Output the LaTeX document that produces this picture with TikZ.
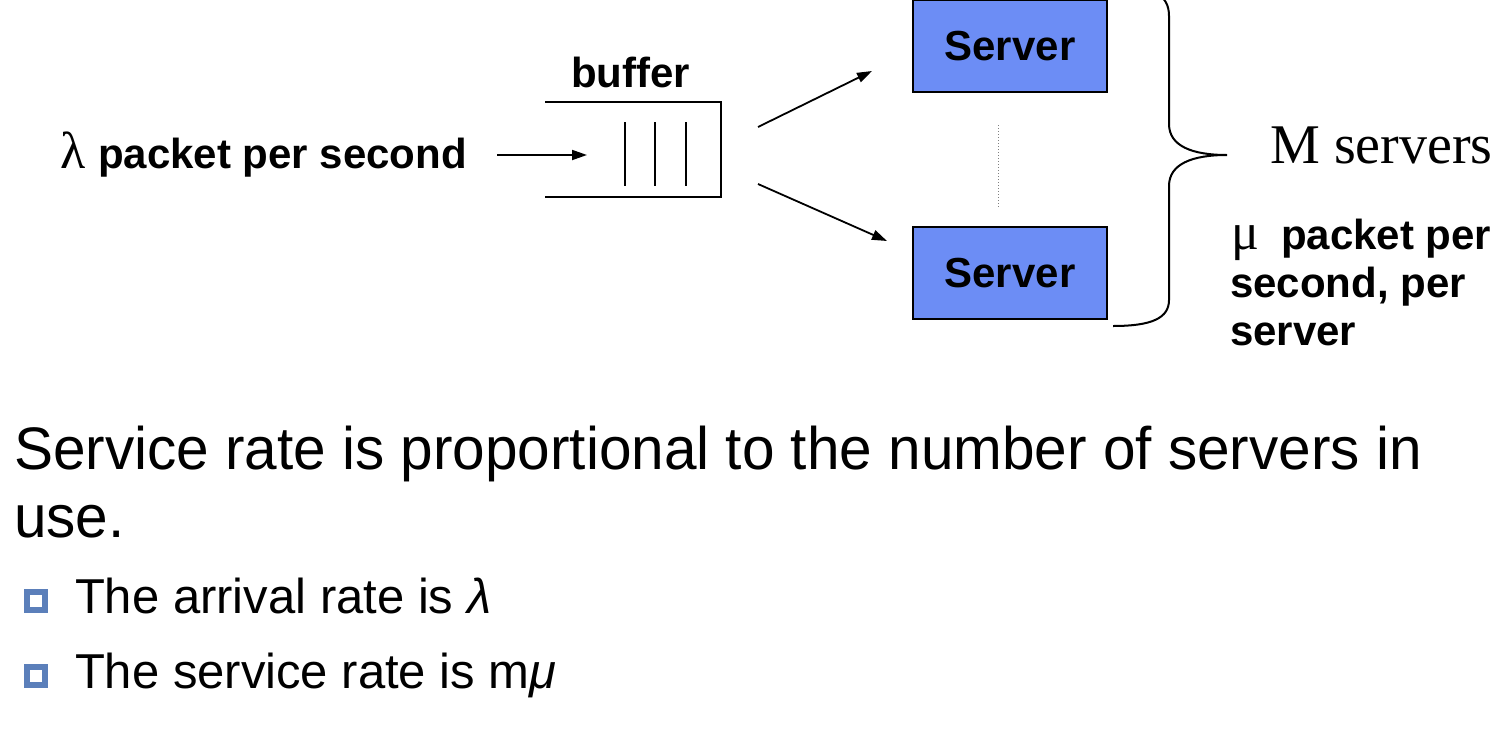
\documentclass[tikz,border=0pt]{standalone}
\usepackage{fontspec}
\setmainfont{Liberation Sans}
\newfontfamily\serifgr{Liberation Serif}
\usetikzlibrary{arrows.meta}
\definecolor{serverblue}{RGB}{108,141,245}
\definecolor{bulletblue}{RGB}{91,127,186}
\tikzset{
  lbl/.style={inner sep=0pt, outer sep=0pt, anchor=base west, font=\bfseries\fontsize{42}{48}\selectfont},
  body/.style={inner sep=0pt, outer sep=0pt, anchor=base west, font=\fontsize{60}{67}\selectfont},
  bul/.style={inner sep=0pt, outer sep=0pt, anchor=base west, font=\fontsize{49}{56}\selectfont},
  serverbox/.style={draw=black, line width=2pt, fill=serverblue, minimum width=194pt, minimum height=92pt, inner sep=0pt, font=\bfseries\fontsize{42}{48}\selectfont},
  arr/.style={line width=1.8pt, -{Triangle[length=15pt,width=10pt]}},
  bufline/.style={line width=2.4pt},
  bulletsq/.style={fill=bulletblue, minimum size=24pt, inner sep=0pt},
}
\newcommand{\bigsym}[1]{{\serifgr\mdseries\fontsize{52}{52}\selectfont #1}}
\begin{document}
\begin{tikzpicture}[x=1pt,y=-1pt]
\useasboundingbox (0,0) rectangle (1498,736);
\clip (0,0) rectangle (1498,736);
\fill[white] (0,0) rectangle (1498,736);

% input label
\node[lbl] (lambda) at (60,168) {\makebox[38pt][l]{\bigsym{λ}}packet per second};
\node[lbl] (buflabel) at (571,87) {buffer};

% buffer
\coordinate (btl) at (545,102);
\coordinate (btr) at (721,102);
\coordinate (bbr) at (721,197);
\coordinate (bbl) at (545,197);
\draw[bufline] (btl) -- (btr) -- (bbr) -- (bbl);
\foreach \x in {625,655,686}{
  \draw[bufline] (\x,122) -- (\x,186);
}

% servers
\node[serverbox] (s1) at (1010,46) {Server};
\node[serverbox] (s2) at (1010,273) {Server};
\draw[gray, line width=1pt, dotted] (998,125) -- (998,208);

% arrows
\coordinate (inA) at (497,155);
\coordinate (inB) at (587,155);
\draw[arr] (inA) -- (inB);
\coordinate (upA) at (758,127);
\coordinate (upB) at (872,71);
\draw[arr] (upA) -- (upB);
\coordinate (dnA) at (758,184);
\coordinate (dnB) at (887,241);
\draw[arr] (dnA) -- (dnB);

% brace
\draw[line width=2pt] (1113,-14) .. controls (1152,-14) and (1169,-6) .. (1169,16)
  -- (1169,124) .. controls (1169,146) and (1192,155) .. (1227,155)
  .. controls (1192,155) and (1169,164) .. (1169,186)
  -- (1169,300) .. controls (1169,318) and (1152,326) .. (1113,326);

\node[inner sep=0pt, anchor=base west, font=\serifgr\fontsize{56}{60}\selectfont] (mserv) at (1270,163) {M servers};
\node[lbl] (mu1) at (1231,249) {\makebox[50pt][l]{\bigsym{μ}}packet per};
\node[lbl] (mu2) at (1230,297) {second, per};
\node[lbl] (mu3) at (1230,345) {server};

% body text
\node[body] (t1) at (14,469) {\scalebox{0.975}[1]{Service rate is proportional to the number of servers in}};
\node[body] (t2) at (14,537) {\scalebox{0.975}[1]{use.}};

\node[bulletsq] (b1) at (35.5,600.5) {};
\fill[white] (b1.center) ++(-6,-6) rectangle ++(12,12);
\node[bul] (l1) at (75,613) {The arrival rate is \textit{λ}};
\node[bulletsq] (b2) at (35.5,675.5) {};
\fill[white] (b2.center) ++(-6,-6) rectangle ++(12,12);
\node[bul] (l2) at (75,688) {The service rate is m\textit{μ}};
\end{tikzpicture}
\end{document}
